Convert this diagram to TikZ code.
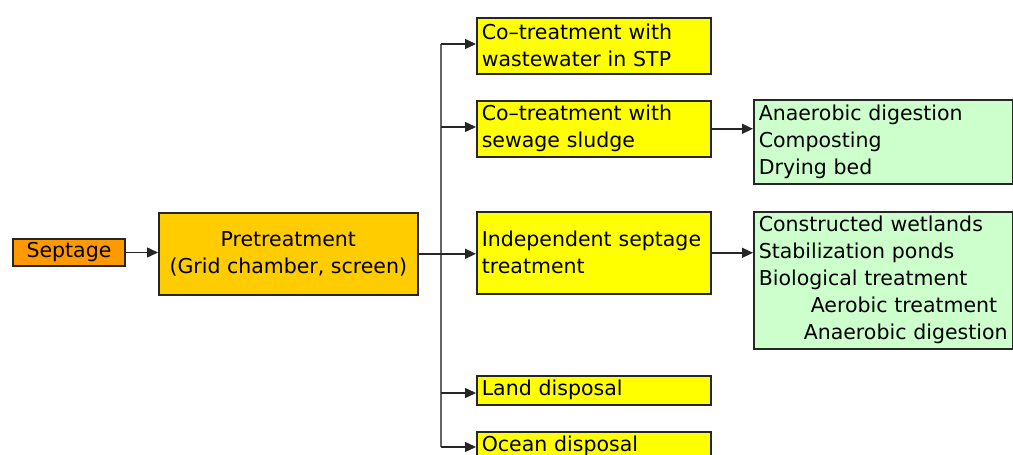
\documentclass[tikz,border=0pt]{standalone}
\usepackage{fontspec}
\setmainfont{DejaVu Sans}
\usetikzlibrary{arrows.meta}
\definecolor{sepc}{HTML}{FF9900}
\definecolor{prec}{HTML}{FFCC00}
\definecolor{yelc}{HTML}{FFFF00}
\definecolor{grnc}{HTML}{CCFFCC}
\begin{document}
\begin{tikzpicture}[x=1pt,y=-1pt,
  box/.style={draw=black!85, line width=1.6pt, anchor=north west, inner xsep=5pt, inner ysep=0pt,
    font=\fontsize{20.5}{27}\selectfont},
  ybox/.style={box, fill=yelc, align=left, minimum width=234pt, text width=224pt},
  gbox/.style={box, fill=grnc, align=left, minimum width=259pt, text width=249pt},
  arr/.style={draw=black!85, line width=1.5pt, -{Triangle[length=11pt,width=10pt]}},
  ln/.style={draw=black!60, line width=1.6pt}]
\useasboundingbox (0,0) rectangle (1013,455);

\node[box, fill=sepc, line width=2pt, minimum width=112pt, minimum height=27pt, align=center] (sep) at (12,238) {Septage};
\node[box, fill=prec, minimum width=259pt, minimum height=82pt, align=center] (pre) at (158,212) {Pretreatment\\(Grid chamber, screen)};

\node[ybox, minimum height=56pt] (b1) at (476,17) {Co–treatment with\\wastewater in STP};
\node[ybox, minimum height=56pt] (b2) at (476,100) {Co–treatment with\\sewage sludge};
\node[ybox, minimum height=82pt] (b3) at (476,211) {Independent septage\\treatment};
\node[ybox, minimum height=29pt] (b4) at (476,375) {Land disposal};
\node[ybox, minimum height=29pt] (b5) at (476,431) {Ocean disposal};

\node[gbox, minimum height=84pt] (g1) at (753,99) {Anaerobic digestion\\Composting\\Drying bed};
\node[gbox, minimum height=137pt] (g2) at (753,211) {Constructed wetlands\\Stabilization ponds\\Biological treatment\\\hspace*{52pt}Aerobic treatment\\\hspace*{45pt}Anaerobic digestion};

\coordinate (t1) at (441,44);
\coordinate (t2) at (441,127);
\coordinate (t4) at (441,393);
\coordinate (t5) at (441,447);

\draw[arr] (sep.east) -- (sep.east -| pre.west);
\draw[ln] (t1) -- (t5);
\draw[arr] (pre.east) -- (pre.east -| b3.west);
\draw[arr] (t1) -- (t1 -| b1.west);
\draw[arr] (t2) -- (t2 -| b2.west);
\draw[arr] (t4) -- (t4 -| b4.west);
\draw[arr] (t5) -- (t5 -| b5.west);
\draw[arr] (b2.east) -- (b2.east -| g1.west);
\draw[arr] (b3.east) -- (b3.east -| g2.west);
\end{tikzpicture}
\end{document}
